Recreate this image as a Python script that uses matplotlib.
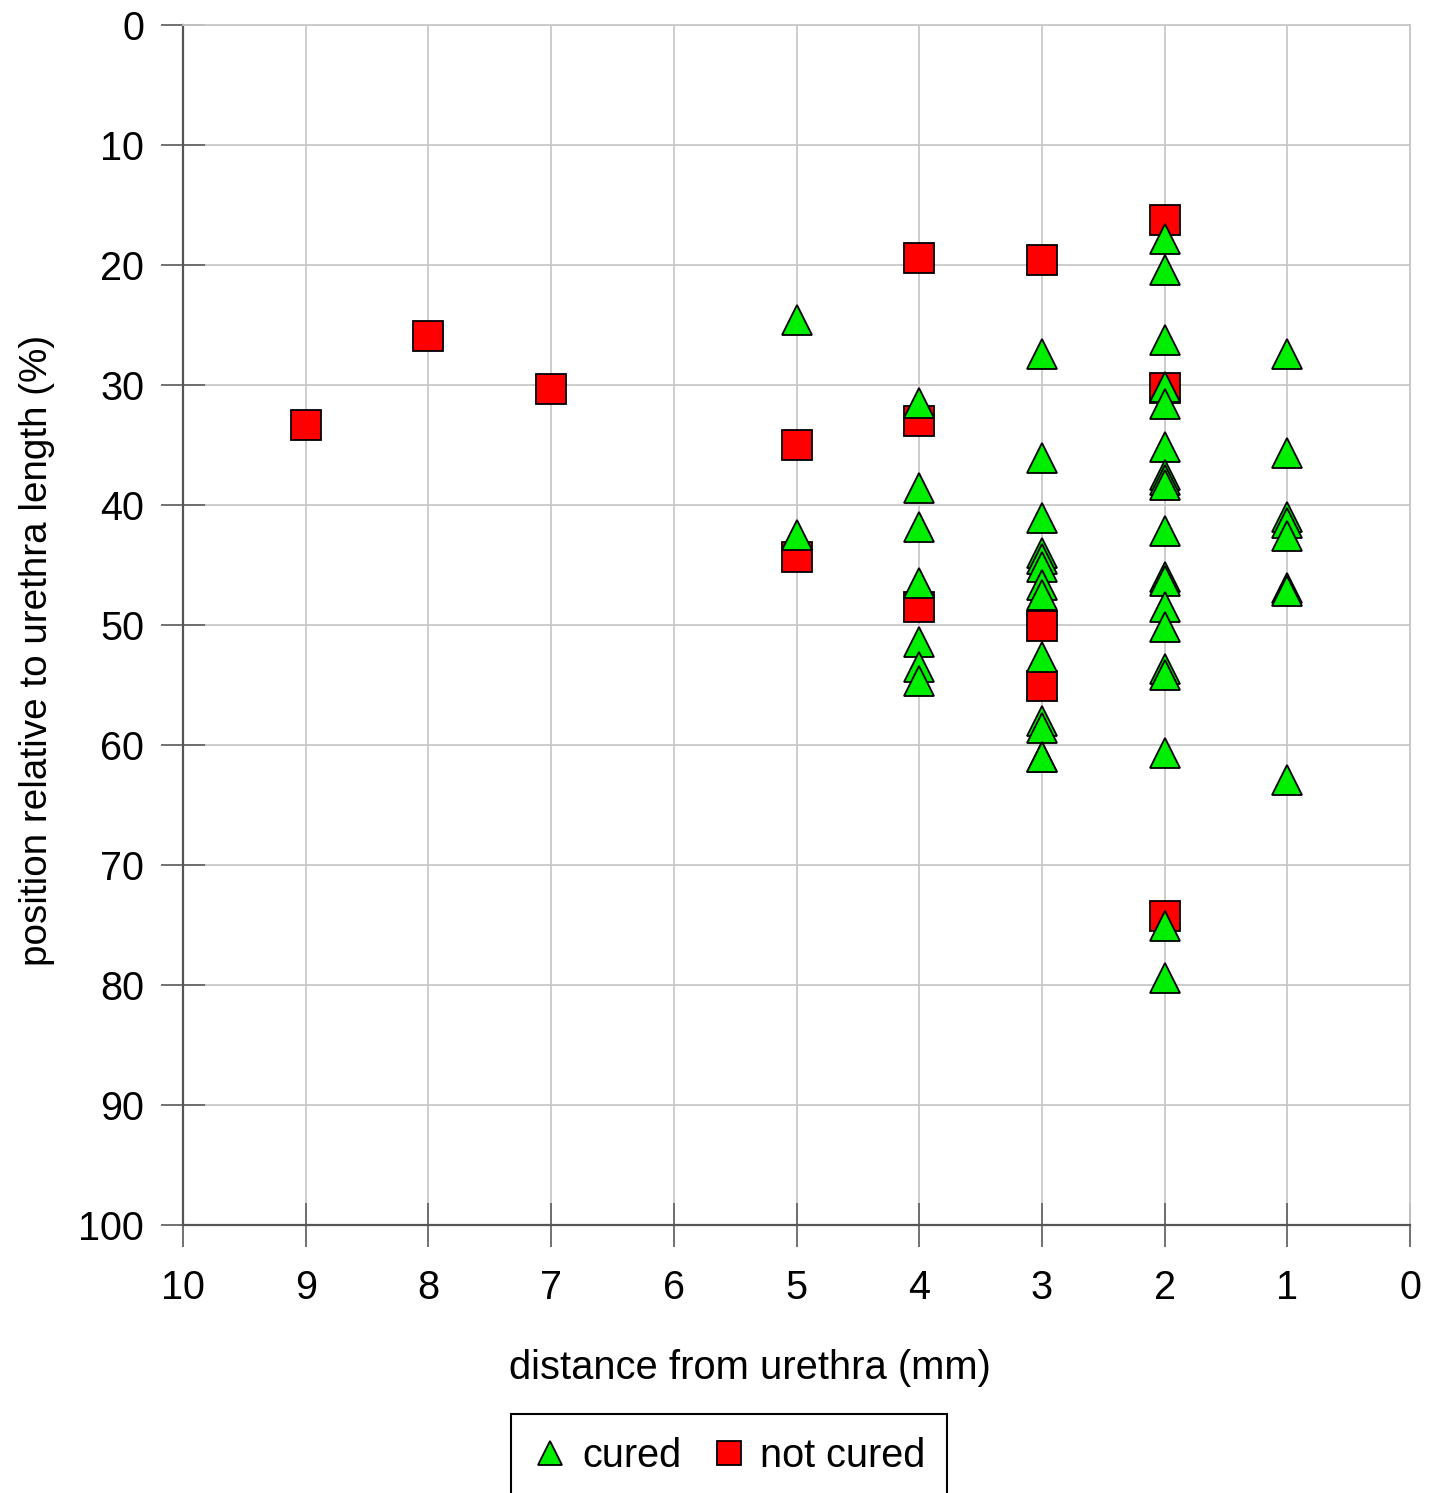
import numpy as np
import matplotlib
matplotlib.use("Agg")
import matplotlib.pyplot as plt
from matplotlib.patches import Rectangle

plt.rcParams['font.family'] = ['Liberation Sans', 'DejaVu Sans']

# cured points (distance in mm, position in % of urethra length)
cured_x = [5, 5,
           4, 4, 4, 4, 4, 4, 4,
           3, 3, 3, 3, 3, 3, 3, 3, 3, 3, 3, 3, 3,
           2, 2, 2, 2, 2, 2, 2, 2, 2, 2, 2, 2, 2, 2, 2, 2, 2, 2, 2,
           1, 1, 1, 1, 1, 1, 1, 1]
cured_y = [24.6, 42.5,
           31.5, 38.6, 41.8, 46.5, 51.4, 53.5, 54.7,
           27.4, 36.1, 41.1, 44.0, 44.5, 45.2, 46.7, 47.5, 52.7, 58.0, 58.6, 61.0, 61.0,
           17.8, 20.4, 26.25, 30.2, 31.6, 35.2, 37.5, 37.9, 38.3, 42.2, 46.0, 46.3,
           48.5, 50.2, 53.7, 54.2, 60.7, 75.1, 79.4,
           27.4, 35.7, 41.0, 41.5, 42.6, 46.9, 47.2, 62.9]

# not cured points
not_cured_x = [9, 8, 7, 5, 5, 4, 4, 4, 3, 3, 3, 2, 2, 2]
not_cured_y = [33.3, 25.9, 30.3, 35.0, 44.3, 19.4, 33.0, 48.5, 19.6, 50.1, 55.1, 16.25, 30.25, 74.25]

x_ticks = list(range(0, 11))
y_ticks = list(range(0, 101, 10))

fig = plt.figure(figsize=(14.37, 14.93), dpi=100)
ax = fig.add_axes([183/1437, 1 - 1225/1493, (1410-183)/1437, (1225-25)/1493])

grid_col = '#c8c8c8'
ax.plot(not_cured_x, not_cured_y, 's', ms=21, mfc='#ff0000', mec='black', mew=1.3,
        ls='none', label='not cured', zorder=3, clip_on=False)
ax.plot(cured_x, cured_y, '^', ms=21.5, mfc='#00ee00', mec='black', mew=1.3,
        ls='none', label='cured', zorder=4, clip_on=False)

ax.set_xlim(10, 0)
ax.set_ylim(100, 0)
ax.set_xticks(x_ticks)
ax.set_yticks(y_ticks)
ax.grid(True, color=grid_col, lw=1.3)
ax.set_axisbelow(True)

for s in ['top', 'right']:
    ax.spines[s].set_color(grid_col)
    ax.spines[s].set_linewidth(1.3)
for s in ['left', 'bottom']:
    ax.spines[s].set_color('#555555')
    ax.spines[s].set_linewidth(1.6)

ax.tick_params(axis='both', direction='inout', length=32, width=1.3, color='#666666',
               labelsize=28.5)
ax.tick_params(axis='x', pad=16)
ax.tick_params(axis='y', pad=12)

ax.set_xlabel('distance from urethra (mm)', fontsize=28.7, labelpad=30)
ax.set_ylabel('position relative to urethra length (%)', fontsize=27.8, labelpad=17)
ax.xaxis.label.set_x(0.462)
ax.yaxis.label.set_y(0.479)

# legend below the plot, box runs off the bottom edge
h, l = ax.get_legend_handles_labels()
leg = fig.legend([h[1], h[0]], [l[1], l[0]], loc='upper center',
                 bbox_to_anchor=(727/1437, 1 - 1401/1493), ncol=2, fontsize=28.5,
                 frameon=False, handlelength=1.1, handletextpad=0.25,
                 columnspacing=0.65, markerscale=0.82)
fig.patches.append(Rectangle((511/1437, -0.02), (947-511)/1437, 0.02 + (1493-1414)/1493,
                             transform=fig.transFigure, fill=False, ec='black', lw=1.5))

fig.savefig('out.png', dpi=100)
